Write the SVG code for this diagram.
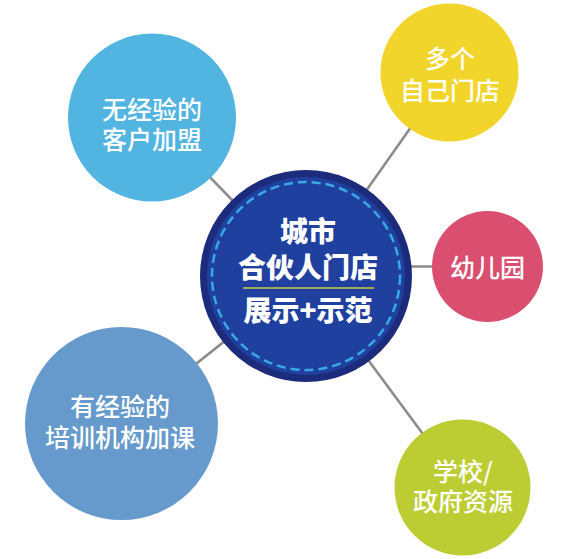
<svg xmlns="http://www.w3.org/2000/svg" width="579" height="559" viewBox="0 0 579 559">
<style>
.lbl{font-family:"Noto Sans CJK SC","Noto Sans",sans-serif;font-weight:500;font-size:25px;fill:#ffffff;text-anchor:middle}
.ctr{font-family:"Noto Sans CJK SC","Noto Sans",sans-serif;font-weight:900;font-size:28px;fill:#ffffff;text-anchor:middle}
.conn{stroke:#8c8c8c;stroke-width:2.6;fill:none}
</style>
<rect width="579" height="559" fill="#ffffff"/>
<g id="connectors">
<line class="conn" x1="152" y1="117.5" x2="306" y2="276"/>
<line class="conn" x1="449.5" y1="72.5" x2="306" y2="276"/>
<line class="conn" x1="487.5" y1="266.5" x2="306" y2="266.5"/>
<line class="conn" x1="121.5" y1="423.5" x2="306" y2="276"/>
<line class="conn" x1="462.5" y1="487.5" x2="306" y2="276"/>
</g>
<g id="node-no-exp">
<circle cx="152" cy="117.5" r="84" fill="#52b4e0"/>
<text class="lbl" x="152" y="119">无经验的</text>
<text class="lbl" x="152" y="149">客户加盟</text>
</g>
<g id="node-own-stores">
<circle cx="449.5" cy="72.5" r="69" fill="#f2d52b"/>
<text class="lbl" x="450" y="68">多个</text>
<text class="lbl" x="450" y="100">自己门店</text>
</g>
<g id="node-kindergarten">
<circle cx="487.5" cy="266.5" r="55.5" fill="#da4f70"/>
<text class="lbl" x="487.5" y="277">幼儿园</text>
</g>
<g id="node-training">
<circle cx="121.5" cy="423.5" r="96.5" fill="#6699cc"/>
<text class="lbl" x="120" y="416">有经验的</text>
<text class="lbl" x="120" y="447">培训机构加课</text>
</g>
<g id="node-school">
<circle cx="462.5" cy="487.5" r="68" fill="#bccd33"/>
<text class="lbl" x="463" y="481">学校/</text>
<text class="lbl" x="463" y="511">政府资源</text>
</g>
<g id="node-center">
<circle cx="306" cy="276" r="106" fill="#1d2b7c"/>
<circle cx="306" cy="276" r="99" fill="#1f409f"/>
<circle cx="306" cy="276" r="94" fill="none" stroke="#3aa9e2" stroke-width="2.5" stroke-dasharray="9 5"/>
<text class="ctr" x="308" y="242">城市</text>
<text class="ctr" x="308" y="278">合伙人门店</text>
<line x1="243" y1="288" x2="374" y2="288" stroke="#c9cf3e" stroke-width="1.6"/>
<text class="ctr" x="308" y="321">展示+示范</text>
</g>
</svg>
